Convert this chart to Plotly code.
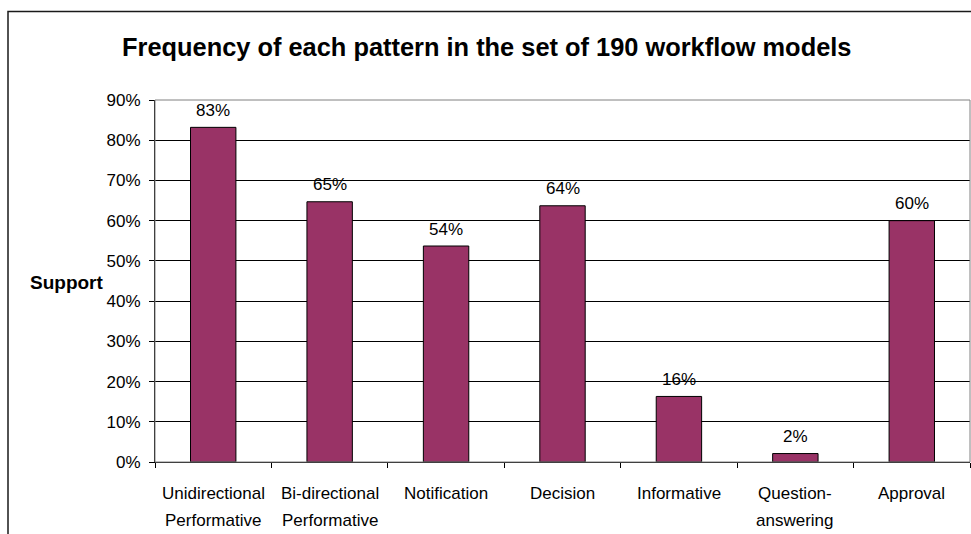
import plotly.graph_objects as go

categories = ["Unidirectional Performative", "Bi-directional Performative", "Notification",
              "Decision", "Informative", "Question-answering", "Approval"]
label_line1 = ["Unidirectional", "Bi-directional", "Notification", "Decision",
               "Informative", "Question-", "Approval"]
label_line2 = ["Performative", "Performative", "", "", "", "answering", ""]
support = [0.832, 0.647, 0.537, 0.637, 0.163, 0.021, 0.600]
y_ticks = [0, 0.1, 0.2, 0.3, 0.4, 0.5, 0.6, 0.7, 0.8, 0.9]
y_tick_text = ["0%", "10%", "20%", "30%", "40%", "50%", "60%", "70%", "80%", "90%"]

FONT = "Liberation Sans, Arial, sans-serif"

fig = go.Figure()
fig.add_trace(go.Bar(
    x=categories, y=support,
    marker=dict(color="#993366", line=dict(color="#000000", width=1)),
    width=0.39,
    hoverinfo="skip",
))

annotations = []
for c, v in zip(categories, support):
    annotations.append(dict(x=c, y=v, xref="x", yref="y", text=f"{round(v*100)}%",
                            showarrow=False, yanchor="middle", yshift=17,
                            font=dict(family=FONT, size=17, color="#000")))
for c, l1, l2 in zip(categories, label_line1, label_line2):
    annotations.append(dict(x=c, y=0, xref="x", yref="paper", text=l1, showarrow=False,
                            yanchor="middle", yshift=-31,
                            font=dict(family=FONT, size=17, color="#000")))
    if l2:
        annotations.append(dict(x=c, y=0, xref="x", yref="paper", text=l2, showarrow=False,
                                yanchor="middle", yshift=-58,
                                font=dict(family=FONT, size=17, color="#000")))

annotations.append(dict(x=(486 - 155) / 815, y=1 + (100 - 47) / 362, xref="paper", yref="paper",
                        text="<b>Frequency of each pattern in the set of 190 workflow models</b>",
                        showarrow=False, xanchor="center", yanchor="middle",
                        font=dict(family=FONT, size=25.4, color="#000")))
annotations.append(dict(x=(66 - 155) / 815, y=(462 - 282) / 362, xref="paper", yref="paper",
                        text="<b>Support</b>", showarrow=False, xanchor="center", yanchor="middle",
                        font=dict(family=FONT, size=19, color="#000")))

shapes = [
    # plot area border (grey)
    dict(type="rect", xref="paper", yref="paper", x0=0, x1=1, y0=0, y1=1,
         line=dict(color="#808080", width=1), layer="above"),
    # outer chart border
    dict(type="rect", xref="paper", yref="paper",
         x0=(8 - 155) / 815, x1=(990 - 155) / 815,
         y0=-(560 - 462) / 362, y1=1 + (100 - 11.5) / 362,
         line=dict(color="#1a1a1a", width=1.5), layer="above"),
]

fig.update_layout(
    width=971, height=534,
    margin=dict(l=155, r=1, t=100, b=72),
    paper_bgcolor="#ffffff", plot_bgcolor="#ffffff",
    showlegend=False,
    bargap=0.61,
    annotations=annotations,
    shapes=shapes,
    font=dict(family=FONT, size=17, color="#000"),
)
fig.update_xaxes(
    type="category", showticklabels=False,
    showline=True, linecolor="#000", linewidth=1,
    ticks="outside", tickson="boundaries", ticklen=5, tickcolor="#000",
    showgrid=False, zeroline=False,
)
fig.update_yaxes(
    range=[0, 0.9], tickvals=y_ticks, ticktext=y_tick_text,
    showline=True, linecolor="#000", linewidth=1,
    ticks="outside", ticklen=5, tickcolor="#000",
    showgrid=True, gridcolor="#000", gridwidth=1, zeroline=False,
    ticklabelstandoff=5,
    tickfont=dict(family=FONT, size=17, color="#000"),
)

fig.write_html("out.html")
